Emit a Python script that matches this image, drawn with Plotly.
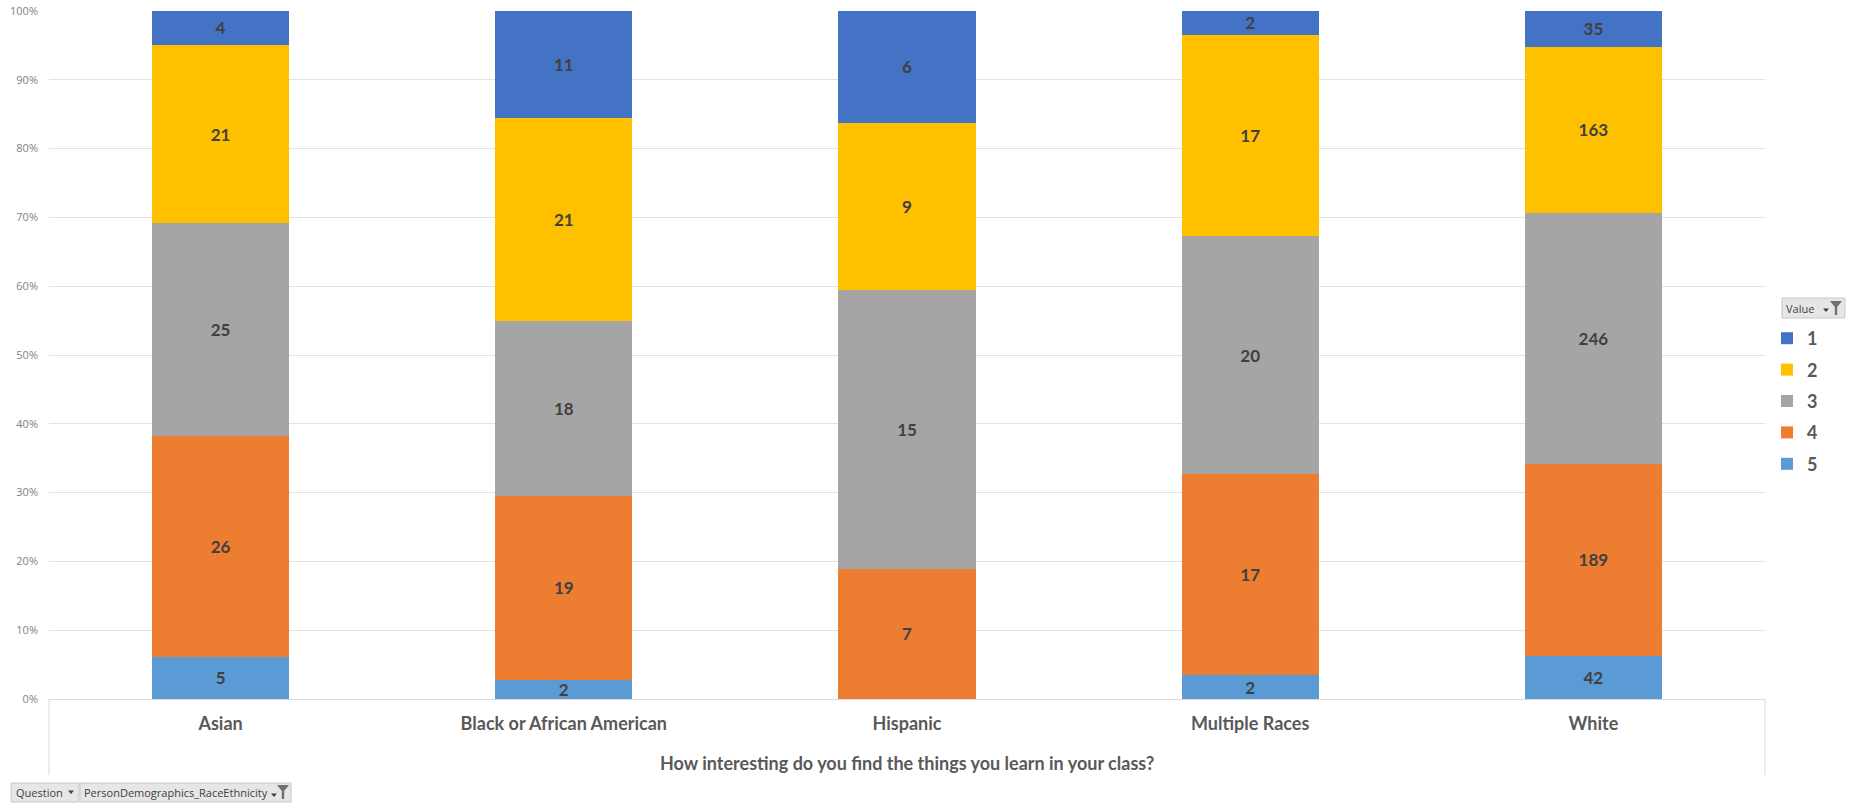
import plotly.graph_objects as go

# ---- data ----
categories = ["Asian", "Black or African American", "Hispanic", "Multiple Races", "White"]
value_labels = ["1", "2", "3", "4", "5"]
counts_1 = [4, 11, 6, 2, 35]
counts_2 = [21, 21, 9, 17, 163]
counts_3 = [25, 18, 15, 20, 246]
counts_4 = [26, 19, 7, 17, 189]
counts_5 = [5, 2, 0, 2, 42]
series = {"1": counts_1, "2": counts_2, "3": counts_3, "4": counts_4, "5": counts_5}
colors = {"1": "#4472C4", "2": "#FFC000", "3": "#A5A5A5", "4": "#ED7D31", "5": "#5B9BD5"}
y_ticks = [0, 10, 20, 30, 40, 50, 60, 70, 80, 90, 100]
y_tick_labels = ["0%", "10%", "20%", "30%", "40%", "50%", "60%", "70%", "80%", "90%", "100%"]
x_title = "How interesting do you find the things you learn in your class?"

W, H = 1853, 807
L, R, T, B = 49, 88, 11, 108
PW, PH = W - L - R, H - T - B

def px(x):
    return (x - L) / PW

def py(y):
    return (H - B - y) / PH

FONT = "Lato"
GRAY = "#595959"

fig = go.Figure()
for v in ["5", "4", "3", "2", "1"]:
    vals = series[v]
    fig.add_trace(go.Bar(
        x=categories, y=vals, name=v, legendgroup=v,
        legendrank=value_labels.index(v) + 1,
        marker=dict(color=colors[v], line=dict(width=0)),
        text=[str(c) if c else "" for c in vals],
        textposition="inside", insidetextanchor="middle", textangle=0,
        textfont=dict(family=FONT, size=17, color="#404040", weight="bold"),
        hoverinfo="x+y+name",
    ))

shapes = []
annotations = []

# category-axis box lines below the plot
for xx in [0, 1]:
    shapes.append(dict(type="line", xref="paper", yref="paper", x0=xx, x1=xx,
                       y0=0, y1=py(775), line=dict(color="#D9D9D9", width=1)))

# x axis title
annotations.append(dict(text=x_title, xref="paper", yref="paper", x=0.5, y=py(763),
                        xanchor="center", yanchor="middle", showarrow=False,
                        font=dict(family=FONT, size=18, color=GRAY, weight="bold")))

def button(x0, x1, y0, y1, label, tx, arrow=None, funnel=None):
    shapes.append(dict(type="rect", xref="paper", yref="paper",
                       x0=px(x0), x1=px(x1), y0=py(y1), y1=py(y0),
                       fillcolor="#E6E6E6", line=dict(color="#C8C8C8", width=1), layer="above"))
    annotations.append(dict(text=label, xref="paper", yref="paper", x=px(tx), y=py((y0 + y1) / 2),
                            xanchor="left", yanchor="middle", showarrow=False,
                            font=dict(family="Open Sans", size=11, color="#404040")))
    if arrow is not None:
        ax, ay = arrow
        shapes.append(dict(type="path", xref="paper", yref="paper",
                           path=f"M {px(ax-3)},{py(ay-1.5)} L {px(ax+3)},{py(ay-1.5)} L {px(ax)},{py(ay+2)} Z",
                           fillcolor="#404040", line=dict(width=0), layer="above"))
    if funnel is not None:
        fx, fy = funnel
        shapes.append(dict(type="path", xref="paper", yref="paper",
                           path=(f"M {px(fx-6)},{py(fy-7)} L {px(fx+6)},{py(fy-7)} L {px(fx+1.2)},{py(fy-1)} "
                                 f"L {px(fx+1.2)},{py(fy+7)} L {px(fx-1.2)},{py(fy+7)} L {px(fx-1.2)},{py(fy-1)} Z"),
                           fillcolor="#707070", line=dict(width=0), layer="above"))

# legend header button "Value"
button(1782, 1845, 298, 318, "Value", 1784, arrow=(1826, 310), funnel=(1836, 308))
# bottom field buttons
button(11, 79, 783, 802, "Question", 14, arrow=(71, 792))
button(80, 291, 783, 802, "PersonDemographics_RaceEthnicity", 82, arrow=(274, 795), funnel=(283, 792))

fig.update_layout(
    width=W, height=H,
    margin=dict(l=L, r=R, t=T, b=B, autoexpand=False),
    barmode="stack", barnorm="percent", bargap=0.6,
    paper_bgcolor="white", plot_bgcolor="white",
    font=dict(family=FONT, color=GRAY),
    uniformtext=dict(minsize=17, mode="show"),
    showlegend=True,
    legend=dict(x=px(1767), y=py(320), xanchor="left", yanchor="top",
                traceorder="grouped", tracegroupgap=5, itemwidth=30,
                font=dict(family=FONT, size=18, color=GRAY, weight="bold"),
                bgcolor="rgba(0,0,0,0)"),
    xaxis=dict(showgrid=False, showline=False, ticks="", ticklabelstandoff=12,
               tickfont=dict(family=FONT, size=18, color=GRAY, weight="bold"),
               zeroline=False),
    yaxis=dict(range=[0, 100], tickvals=y_ticks, ticktext=y_tick_labels,
               showgrid=True, gridcolor="#E3E3E3", gridwidth=1,
               zeroline=True, zerolinecolor="#D9D9D9", zerolinewidth=1,
               showline=False, ticks="", ticklabelstandoff=10,
               tickfont=dict(family="Open Sans", size=11, color="#7F7F7F")),
    shapes=shapes, annotations=annotations,
)

fig.write_html("out.html", config={"displayModeBar": False},
               post_script="document.body.style.margin='0px';")
